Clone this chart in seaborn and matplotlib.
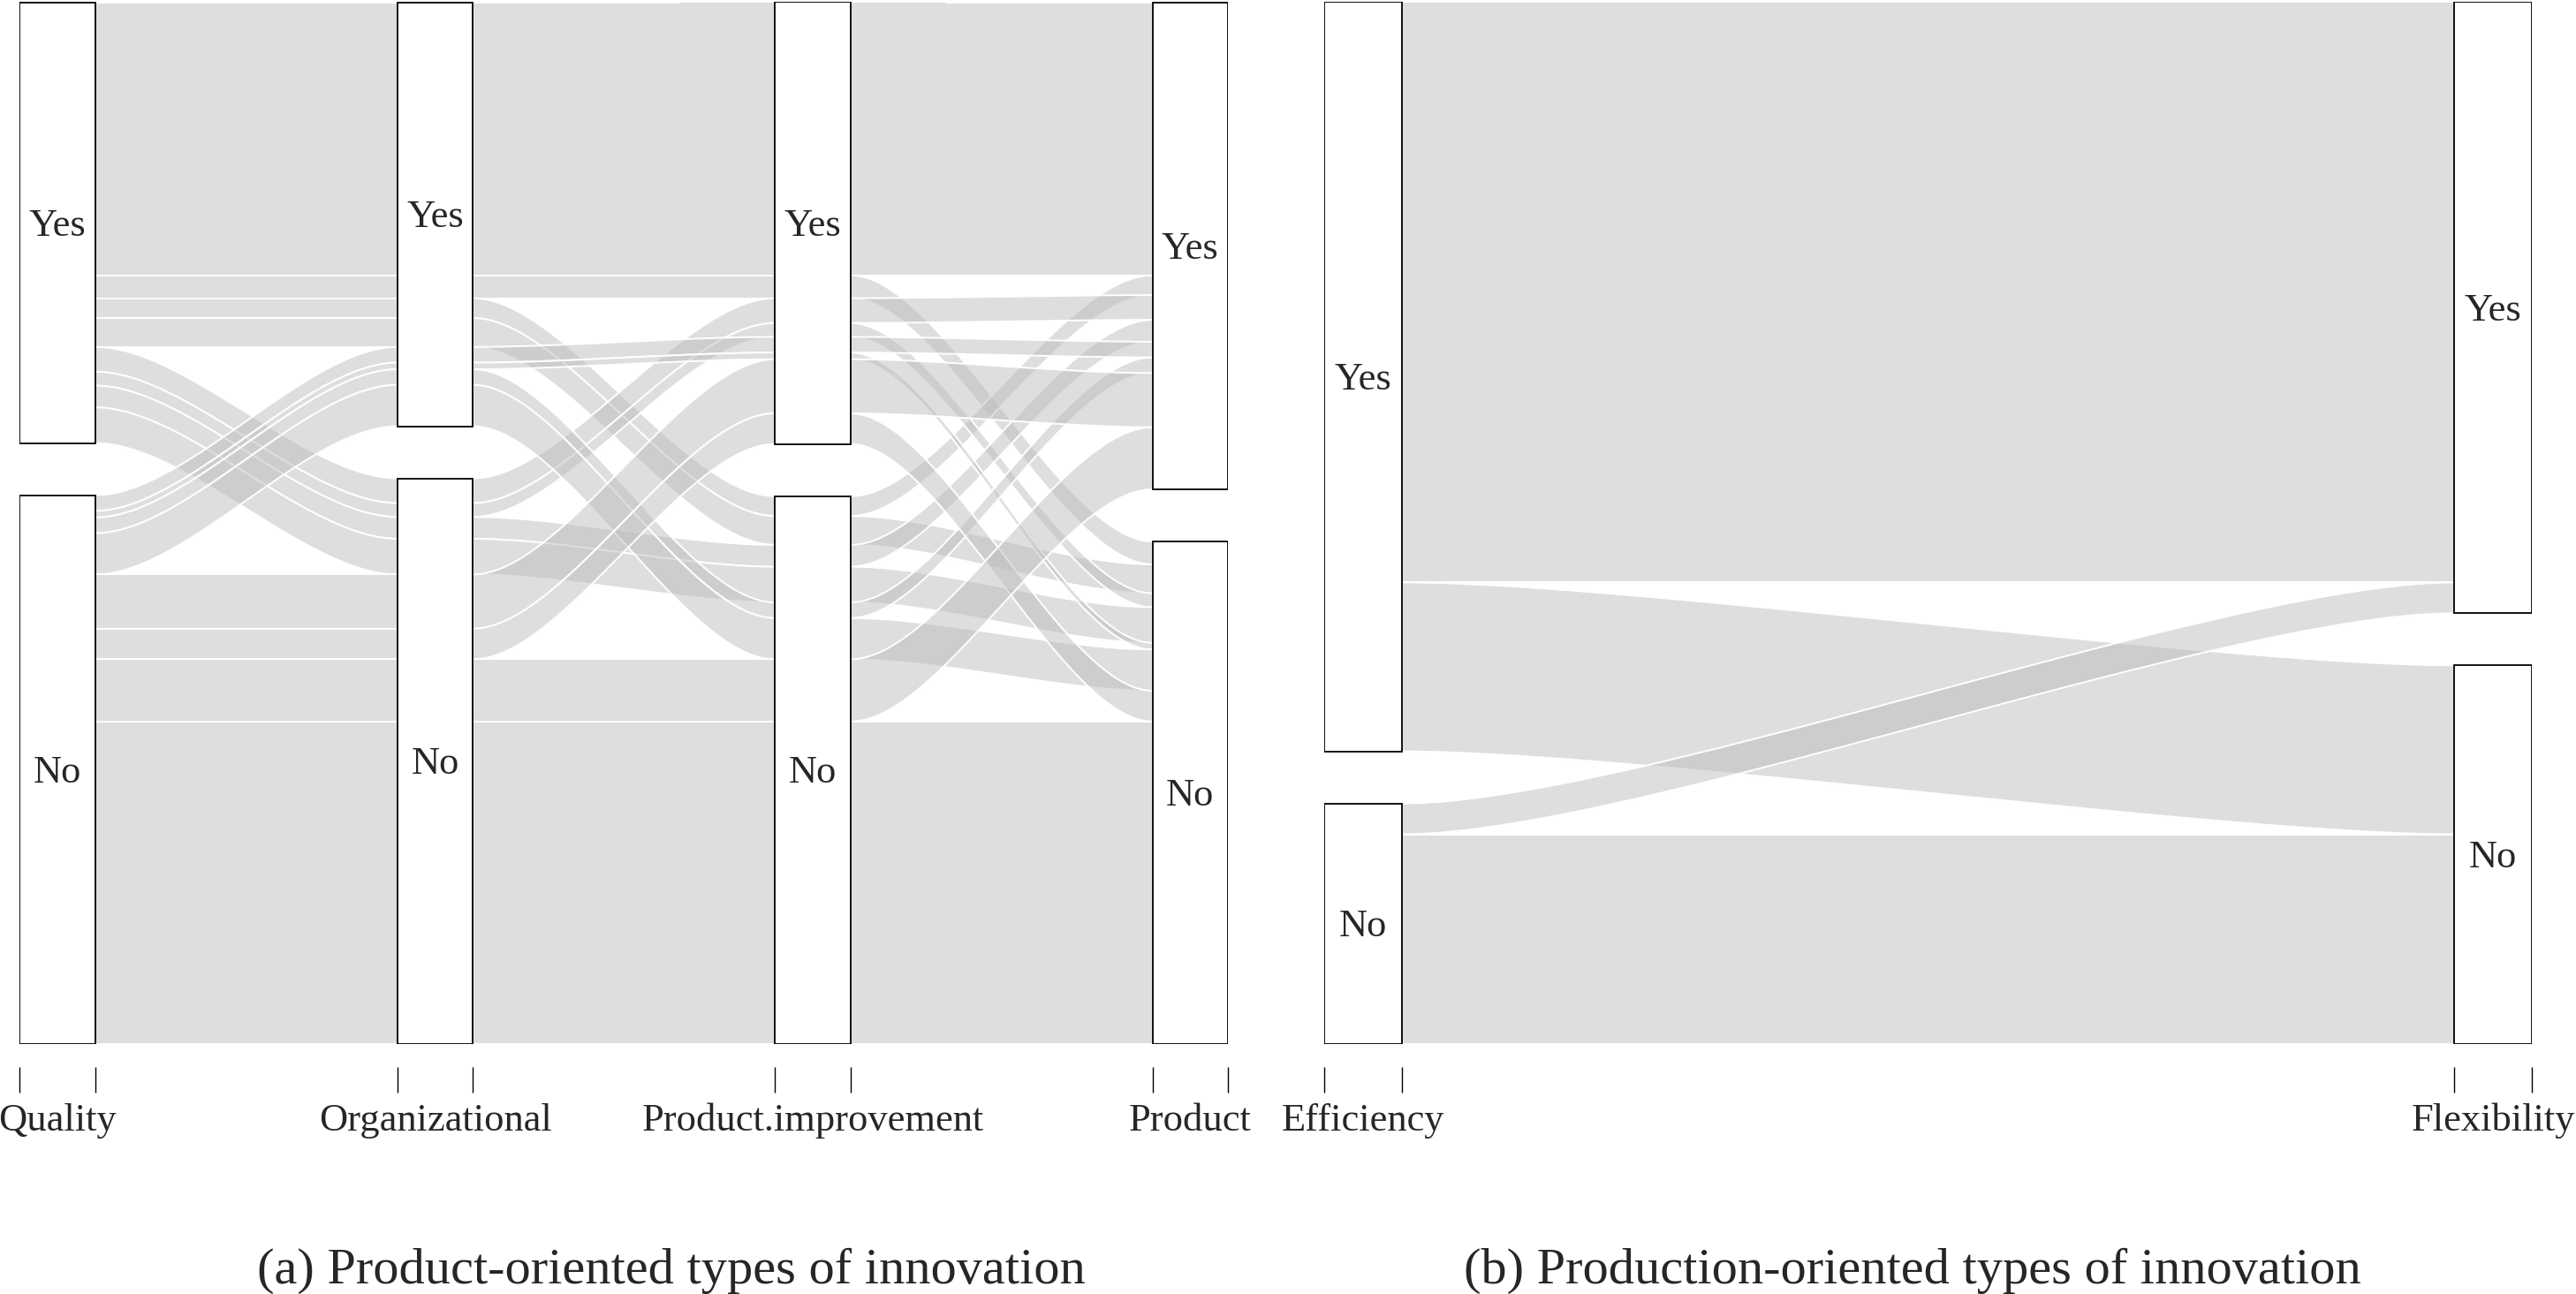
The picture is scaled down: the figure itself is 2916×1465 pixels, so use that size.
import numpy as np
import pandas as pd
import matplotlib.pyplot as plt
import matplotlib.transforms as mtransforms
from matplotlib.patches import Rectangle
import seaborn as sns

sns.set_theme(style="white")
plt.rcParams["font.family"] = ["Liberation Serif", "DejaVu Serif"]

# (a) product-oriented innovation: one row per Yes/No pattern, freq = stripe width
quality = ["Yes"] * 8 + ["No"] * 8
organizational = (["Yes"] * 4 + ["No"] * 4) * 2
product_improvement = (["Yes"] * 2 + ["No"] * 2) * 4
product = ["Yes", "No"] * 8
freq_a = [165.3, 13.9, 12.0, 17.5, 15.0, 8.4, 13.2, 21.6,
          9.5, 4.0, 9.5, 25.0, 32.8, 18.6, 37.6, 195.0]

# (b) production-oriented innovation
efficiency = ["Yes", "Yes", "No", "No"]
flexibility = ["Yes", "No", "Yes", "No"]
freq_b = [352.0, 102.5, 18.7, 127.0]

df_a = pd.DataFrame({"Quality": quality, "Organizational": organizational,
                     "Product.improvement": product_improvement, "Product": product})
df_b = pd.DataFrame({"Efficiency": efficiency, "Flexibility": flexibility})

GAP = 0.05
FLOW = "#bebebe"


def stripes(df, freq, i):
    # stripe order at axis i: that variable first, then the others left to right
    cols = list(df.columns)
    keys = [cols[i]] + cols[:i] + cols[i + 1:]
    codes = (df == "Yes").astype(int)
    o = np.lexsort([codes[c].values for c in keys[::-1]])
    f = np.asarray(freq, float)[o]
    edges = np.concatenate([[0], np.cumsum(f)]) / f.sum() * (1 - GAP)
    shift = codes[cols[i]].values[o] * GAP
    pos = np.zeros((len(df), 2))
    pos[o, 0] = edges[:-1] + shift
    pos[o, 1] = edges[1:] + shift
    return pos


def bezier(x0, x1, h, n=150):
    t = np.linspace(0, 1, n)
    d = (x1 - x0) * h
    x = (1 - t) ** 3 * x0 + 3 * (1 - t) ** 2 * t * (x0 + d) + 3 * (1 - t) * t ** 2 * (x1 - d) + t ** 3 * x1
    s = 3 * t ** 2 - 2 * t ** 3
    return x, s


def alluvial(ax, df, freq, cw, h):
    n = df.shape[1]
    pos = [stripes(df, freq, i) for i in range(n)]
    for r in range(len(df)):
        for j in range(n - 1):
            x, s = bezier(j + 1 + cw, j + 2 - cw, h)
            lo = pos[j][r, 0] + (pos[j + 1][r, 0] - pos[j][r, 0]) * s
            hi = pos[j][r, 1] + (pos[j + 1][r, 1] - pos[j][r, 1]) * s
            ax.fill_between(x, lo, hi, color=FLOW, alpha=0.5, lw=0, zorder=1)
            ax.plot(x, lo, color="white", lw=1.4, zorder=1)
            ax.plot(x, hi, color="white", lw=1.4, zorder=1)
    # labels sit with the middle of their capitals on the box centre
    lab_tr = mtransforms.offset_copy(ax.transData, fig=ax.figure, y=-10.6, units="points")
    for i, col in enumerate(df.columns):
        for cat in ["Yes", "No"]:
            m = (df[col] == cat).values
            y0, y1 = pos[i][m, 0].min(), pos[i][m, 1].max()
            ax.add_patch(Rectangle((i + 1 - cw, y0), 2 * cw, y1 - y0, fc="white",
                                   ec="black", lw=1.3, zorder=3))
            ax.text(i + 1, (y0 + y1) / 2, cat, ha="center", va="baseline", fontsize=32,
                    zorder=4, transform=lab_tr)
    ax.set_xlim(1 - cw, n + cw)
    ax.set_ylim(0, 1)
    ax.set_yticks([])
    ticks = np.ravel([[k - cw, k + cw] for k in range(1, n + 1)])
    ax.set_xticks(ticks)
    ax.set_xticklabels([])
    ax.spines["bottom"].set_position(("outward", 19))
    sns.despine(ax=ax, left=True, bottom=True)
    ax.tick_params(axis="x", bottom=True, direction="out", length=21, width=1.0, color="black")
    tr = mtransforms.blended_transform_factory(ax.transData, ax.figure.transFigure)
    for k, col in enumerate(df.columns):
        ax.text(k + 1, 1 - 1280 / 1465, col, ha="center", va="baseline", fontsize=32, transform=tr)


W, H = 2916, 1465
fig = plt.figure(figsize=(W / 100, H / 100), dpi=100)
bottom = (H - 1181.5) / H
height = 1179 / H
ax_a = fig.add_axes([22.4 / W, bottom, 1367.7 / W, height])
ax_b = fig.add_axes([1498.6 / W, bottom, 1367.7 / W, height])

alluvial(ax_a, df_a, freq_a, cw=0.1, h=0.3)
alluvial(ax_b, df_b, freq_b, cw=0.0345, h=0.22)

fig.text(760 / W, 1 - 1453 / H, "(a) Product-oriented types of innovation",
         ha="center", va="baseline", fontsize=42)
fig.text(2165 / W, 1 - 1453 / H, "(b) Production-oriented types of innovation",
         ha="center", va="baseline", fontsize=42)

fig.savefig("out.png", dpi=100, facecolor="white")
